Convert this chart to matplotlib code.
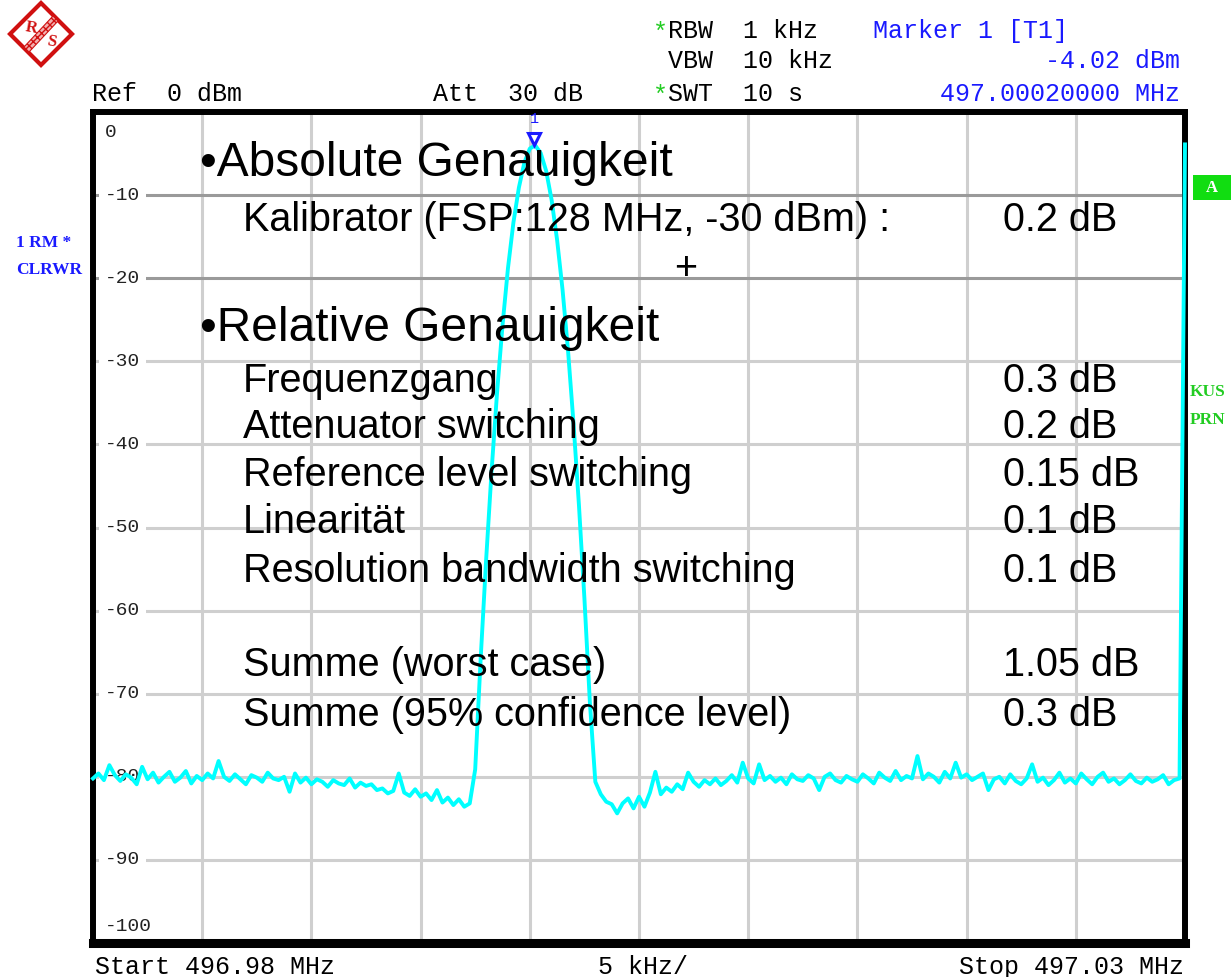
import numpy as np
import matplotlib.pyplot as plt
from matplotlib.patches import Polygon, Rectangle
from matplotlib.transforms import offset_copy

W, H = 1231, 977

# sweep settings
freq_start = 496.98   # MHz
freq_stop = 497.03    # MHz
n_points = 201
ref_level = 0
att_db = 30
rbw_khz = 1
vbw_khz = 10
swt_s = 10
marker_freq = 497.0002
marker_level = -4.02

# trace levels (dBm), one value per sweep point
noise_left = [
    -80.2, -79.6, -80.4, -78.6, -79.8, -80.5, -79.7, -80.1, -80.9, -78.8,
    -80.3, -79.5, -80.7, -80.0, -79.4, -80.6, -80.1, -79.3, -80.8, -79.9,
    -80.4, -79.6, -80.2, -78.1, -80.0, -80.5, -79.7, -80.3, -80.9, -79.8,
    -80.1, -80.6, -79.5, -80.2, -80.4, -80.0, -81.8, -79.6, -80.7, -80.1,
    -80.9, -80.3, -80.6, -81.2, -80.4, -80.8, -81.0, -80.2, -81.3, -80.7,
    -81.1, -80.9, -81.6, -81.4, -82.0, -81.7, -79.6, -81.9, -82.3, -81.5,
    -82.4, -82.0, -82.8, -81.6, -83.1, -82.5, -83.4, -82.7, -83.6, -83.2,
]
peak_levels = [
    -79.1, -65.8, -53.9, -43.2, -33.8, -25.7, -18.8, -13.3, -9.1, -6.1,
    -4.4, -4.02, -4.95, -7.1, -10.6, -15.4, -21.4, -28.7, -37.4, -47.3,
    -58.5, -71.0, -80.6,
]
noise_right = [
    -82.1, -83.0, -83.3, -84.4, -83.2, -82.6, -83.8,
    -82.4, -83.6, -81.9, -79.4, -82.1, -81.3, -81.8, -80.9, -81.5, -79.5,
    -80.6, -81.2, -80.4, -80.9, -80.2, -81.0, -80.5, -79.8, -80.7, -78.3,
    -80.2, -80.8, -78.5, -80.4, -79.9, -80.6, -80.1, -80.9, -79.7, -80.3,
    -80.5, -79.8, -80.2, -81.6, -80.0, -79.6, -80.4, -80.7, -79.9, -80.3,
    -80.6, -79.7, -80.2, -80.8, -79.5, -80.1, -80.5, -79.3, -80.4, -79.9,
    -80.2, -77.5, -80.3, -79.6, -80.0, -80.7, -79.4, -80.2, -78.3, -80.1,
    -79.7, -80.4, -80.0, -79.6, -81.6, -80.3, -80.0, -80.8, -79.7, -80.5,
    -80.9, -80.2, -78.5, -80.6, -80.1, -81.0, -80.4, -79.5, -80.7, -80.2,
    -80.8, -79.6, -80.3, -80.9, -80.0, -79.5, -80.6, -80.2, -80.9, -80.4,
    -79.7, -80.5, -80.8, -80.1, -80.6, -80.3, -79.8, -80.9, -80.4, -80.2,
    -3.9,
]

level_ticks = [0, -10, -20, -30, -40, -50, -60, -70, -80, -90, -100]

# uncertainty budget
calibrator_label = "Kalibrator (FSP:128 MHz, -30 dBm) :"
calibrator_db = 0.2
budget_items = ["Frequenzgang", "Attenuator switching", "Reference level switching",
                "Linearität", "Resolution bandwidth switching"]
budget_db = [0.3, 0.2, 0.15, 0.1, 0.1]
sum_labels = ["Summe (worst case)", "Summe (95% confidence level)"]
sum_db = [1.05, 0.3]

freqs = np.linspace(freq_start, freq_stop, n_points)
trace = np.array(noise_left + peak_levels + noise_right)


def px(x, y):
    return x / W, 1 - y / H


MONO = "Liberation Mono"
SANS = "Liberation Sans"
BLUE = "#1a1aff"
GREEN = "#22cc22"

fig = plt.figure(figsize=(W / 100, H / 100), dpi=100)
fig.patch.set_facecolor("white")

left, right, top, bottom = 93, 1185, 112, 943
ax = fig.add_axes([left / W, 1 - bottom / H, (right - left) / W, (bottom - top) / H])
ax.set_xlim(freq_start, freq_stop)
ax.set_ylim(-100, 0)
ax.set_xticks([])
ax.set_yticks([])

# grid
for f in np.linspace(freq_start, freq_stop, 11)[1:-1]:
    ax.axvline(f, color="#cfcfcf", lw=2.2, zorder=1)
for lvl in level_ticks[1:-1]:
    col = "#9a9a9a" if lvl in (-10, -20) else "#cfcfcf"
    ax.axhline(lvl, color=col, lw=2.2, zorder=1)

# level labels inside the grid
ylab = ax.get_yaxis_transform()
for lvl in level_ticks:
    if lvl == 0:
        xy, dy = (lvl, -15)
    elif lvl == -100:
        xy, dy = (lvl, 12)
    else:
        xy, dy = (lvl, 0)
    ax.annotate(str(lvl), (0.011, xy), xycoords=ylab, xytext=(0, dy),
                textcoords="offset points", ha="left", va="center",
                family=MONO, fontsize=14, color="#222222", zorder=1.5,
                bbox=dict(boxstyle="square,pad=0.3", fc="white", ec="none"))

for name, sp in ax.spines.items():
    sp.set_color("black")
    sp.set_linewidth(6.5 if name == "bottom" else 4.3)
    sp.set_zorder(2.5)

ax.plot(freqs, trace, color="#00ffff", lw=2.8, zorder=3, clip_on=False)

# marker 1
mk = offset_copy(ax.transData, fig=fig, x=0, y=6, units="dots")
ax.plot([marker_freq], [marker_level], marker="v", ms=8, mfc="white",
        mec=BLUE, mew=2.2, transform=mk, zorder=4, clip_on=False)
ax.annotate("1", (marker_freq, marker_level), xytext=(0, 19),
            textcoords="offset points", ha="center", va="center",
            family=MONO, fontsize=11, color=BLUE, zorder=4)

# header
hdr = dict(family=MONO, fontsize=18, va="baseline")
fig.text(*px(653, 40), "*", color=GREEN, **hdr)
fig.text(*px(668, 38), f"RBW  {rbw_khz} kHz", color="black", **hdr)
fig.text(*px(668, 68), f"VBW  {vbw_khz} kHz", color="black", **hdr)
fig.text(*px(653, 103), "*", color=GREEN, **hdr)
fig.text(*px(668, 101), f"SWT  {swt_s} s", color="black", **hdr)
fig.text(*px(92, 101), f"Ref  {ref_level} dBm", color="black", **hdr)
fig.text(*px(433, 101), f"Att  {att_db} dB", color="black", **hdr)
fig.text(*px(873, 38), "Marker 1 [T1]", color=BLUE, **hdr)
fig.text(*px(1180, 68), f"{marker_level:.2f} dBm", color=BLUE, ha="right", **hdr)
fig.text(*px(1180, 101), f"{marker_freq:.8f} MHz", color=BLUE, ha="right", **hdr)

# footer
span_div = (freq_stop - freq_start) * 1000 / 10
fig.text(*px(95, 974), f"Start {freq_start:.2f} MHz", color="black", **hdr)
fig.text(*px(598, 974), f"{span_div:g} kHz/", color="black", **hdr)
fig.text(*px(1184, 974), f"Stop {freq_stop:.2f} MHz", color="black", ha="right", **hdr)

# side annotations
side = dict(family="Liberation Serif", fontsize=12.5, fontweight="bold", va="center")
fig.text(*px(16, 243), "1 RM *", color=BLUE, **side)
fig.text(*px(16, 270), "CLRWR", color=BLUE, **side)
fig.text(*px(1190, 392), "KUS", color=GREEN, **side)
fig.text(*px(1190, 420), "PRN", color=GREEN, **side)
fig.add_artist(Rectangle(px(1193, 200), 38 / W, 25 / H, transform=fig.transFigure,
                         fc="#11dd11", ec="none"))
fig.text(*px(1212, 188), "A", color="white", family="Liberation Serif",
         fontsize=12, fontweight="bold", ha="center", va="center")

# R&S logo
logo = [px(41, 3), px(72, 34), px(41, 65), px(10, 34)]
fig.add_artist(Polygon(logo, closed=True, transform=fig.transFigure,
                       fc="white", ec="#d01010", lw=3))
band = [px(58, 21), px(53, 16), px(24, 47), px(29, 52)]
fig.add_artist(Polygon(band, closed=True, transform=fig.transFigure,
                       fc="#f3b0b0", ec="#d01010", lw=0.8, hatch="xxxx"))
fig.text(*px(31, 28), "R", color="#d01010", family="Liberation Serif",
         fontsize=12, fontweight="bold", ha="center", va="center", rotation=-10)
fig.text(*px(51, 42), "S", color="#d01010", family="Liberation Serif",
         fontsize=12, fontweight="bold", ha="center", va="center", rotation=-10)

# uncertainty budget over the screen
big = dict(family=SANS, fontsize=34.5, va="baseline", color="black", zorder=5)
body = dict(family=SANS, fontsize=28.5, va="baseline", color="black", zorder=5)
val_x = 1003
fig.text(*px(200, 176), "•Absolute Genauigkeit", **big)
fig.text(*px(243, 231), calibrator_label, **body)
fig.text(*px(val_x, 231), f"{calibrator_db:g} dB", **body)
fig.text(*px(686, 269), "+", ha="center", family=SANS, fontsize=28.5,
         va="center", color="black", zorder=5)
fig.text(*px(200, 341), "•Relative Genauigkeit", **big)

row_y = [392, 438, 486, 533, 582]
for y, item, v in zip(row_y, budget_items, budget_db):
    fig.text(*px(243, y), item, **body)
    fig.text(*px(val_x, y), f"{v:g} dB", **body)

for y, item, v in zip([676, 726], sum_labels, sum_db):
    fig.text(*px(243, y), item, **body)
    fig.text(*px(val_x, y), f"{v:g} dB", **body)

fig.savefig("out.png", dpi=100)
